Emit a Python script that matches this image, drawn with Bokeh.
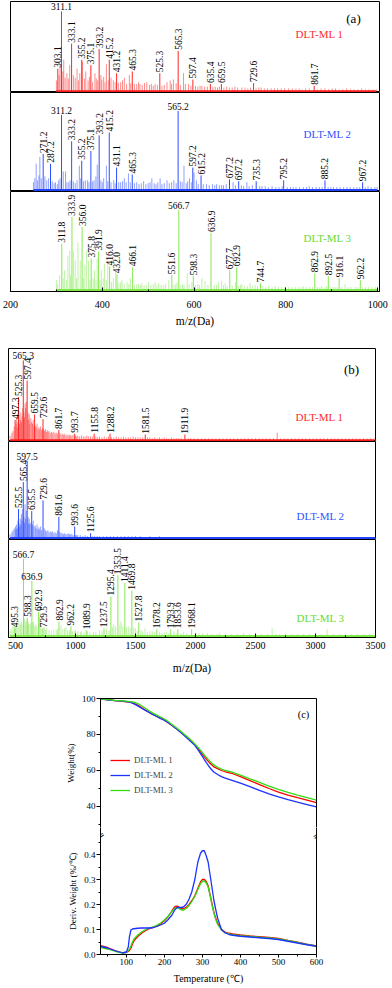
import math
from bokeh.plotting import figure
from bokeh.layouts import column
from bokeh.models import Range1d, LinearAxis, FixedTicker, Label, Legend, LegendItem, NumeralTickFormatter
from bokeh.embed import file_html
from bokeh.resources import INLINE
from bokeh.core.properties import value

# ---------------- data: panel (a), m/z 200-1000 ----------------
a_ticks = [200, 400, 600, 800, 1000]
a_minor_ticks = [300, 500, 700, 900]

a1_mz = [303.1, 311.1, 333.1, 355.2, 375.1, 393.2, 415.2, 431.2, 465.3, 525.3, 565.3, 597.4, 635.4, 659.5, 729.6, 861.7]
a1_int = [25, 89, 53, 35, 29, 47, 35, 20, 22, 20, 45, 13, 8, 8, 9, 6]
a1_flat = [311.1]
a1_minor = [(300,12),(306,18),(308,30),(314,22),(316,35),(319,15),(323,20),(326,14),(329,29),(337,18),(341,15),(345,25),(348,12),(351,20),(357,33),(361,14),(364,22),(369,12),(372,16),(379,10),(384,20),(387,14),(390,12),(397,18),(399,13),(403,16),(406,10),(409,30),(413,12),(419,15),(424,12),(428,10),(435,9),(440,10),(444,12),(448,15),(453,8),(459,18),(462,9),(470,8),(475,8),(479,10),(482,8),(487,7),(492,9),(497,10),(503,7),(507,8),(511,6),(515,8),(520,7),(530,6),(535,7),(541,10),(548,12),(551,8),(555,13),(561,9),(570,7),(577,20),(581,8),(588,8),(593,6),(603,6),(608,5),(613,6),(617,6),(623,5),(629,5),(641,5),(646,5),(651,4),(655,5),(665,4),(671,5),(677,4),(683,4),(689,5),(695,4),(704,4),(711,4),(717,3),(723,4),(735,3),(741,4),(746,4),(753,3),(760,3),(768,3),(775,3),(782,3),(790,3),(797,3),(806,3),(814,3),(822,3),(829,3),(835,2),(843,3),(851,3),(869,2),(877,3),(885,3),(893,2),(901,3),(908,3),(916,2),(924,2),(932,3),(941,2),(949,2),(957,2),(965,3),(973,2),(981,2),(990,2),(997,2)]

a2_mz = [271.2, 287.2, 311.2, 333.2, 355.2, 375.1, 393.2, 415.2, 431.1, 465.3, 565.2, 597.2, 615.2, 677.2, 697.2, 735.3, 795.2, 885.2, 967.2]
a2_int = [37, 27, 77, 50, 30, 40, 56, 59, 23, 16, 81, 23, 15, 11, 9, 9, 10, 10, 8]
a2_flat = [311.2, 565.2]
a2_minor = [(250,8),(253,12),(256,27),(259,10),(262,15),(264,34),(267,12),(275,14),(279,10),(283,12),(291,9),(295,7),(298,8),(302,6),(305,10),(308,12),(315,19),(320,19),(323,8),(327,8),(330,10),(337,9),(341,7),(345,10),(350,25),(353,12),(359,9),(363,10),(368,10),(371,8),(379,9),(382,10),(386,14),(389,26),(397,10),(400,8),(403,12),(409,25),(412,9),(419,8),(425,10),(428,7),(436,8),(440,8),(444,9),(448,12),(452,8),(457,17),(461,8),(470,7),(475,8),(480,6),(485,7),(490,9),(495,6),(500,7),(504,8),(508,12),(513,7),(517,6),(521,8),(526,12),(530,6),(535,7),(541,10),(546,7),(551,8),(556,10),(561,7),(570,9),(574,8),(578,25),(583,7),(586,9),(590,12),(594,8),(600,18),(605,10),(609,6),(620,6),(627,6),(633,5),(640,6),(645,5),(649,6),(655,5),(660,5),(664,5),(670,6),(685,8),(690,5),(703,5),(708,4),(715,8),(720,4),(727,5),(743,4),(748,4),(755,4),(762,3),(770,4),(778,3),(785,3),(792,4),(803,3),(810,3),(816,3),(822,3),(830,3),(838,3),(845,3),(851,4),(858,3),(866,3),(873,3),(879,3),(892,3),(898,3),(904,3),(911,3),(918,3),(926,3),(933,3),(940,3),(948,3),(955,3),(961,3),(973,3),(979,4),(986,3),(994,3),(999,3)]

a3_mz = [311.8, 333.9, 356.0, 375.8, 391.9, 416.0, 432.0, 466.1, 551.6, 566.7, 598.3, 636.9, 677.7, 692.9, 744.7, 862.9, 892.5, 916.1, 962.2]
a3_int = [47, 74, 64, 32, 39, 24, 16, 23, 15, 81, 14, 58, 20, 23, 7, 17, 14, 12, 10]
a3_flat = [566.7]
a3_minor = [(300,10),(303,6),(307,15),(315,12),(318,20),(322,10),(325,35),(329,40),(331,15),(337,40),(341,30),(344,12),(347,48),(352,30),(359,12),(362,25),(366,40),(370,30),(373,10),(380,12),(383,20),(386,10),(389,32),(395,10),(398,20),(402,12),(405,27),(409,10),(412,29),(420,8),(424,12),(429,18),(436,7),(440,8),(443,10),(448,6),(454,8),(458,6),(461,12),(470,5),(475,6),(479,6),(483,5),(486,7),(491,5),(496,5),(501,8),(506,5),(511,6),(515,8),(519,5),(523,7),(528,5),(533,5),(538,6),(545,10),(556,5),(560,6),(563,8),(571,5),(575,6),(578,5),(585,17),(589,6),(595,8),(603,5),(608,6),(612,5),(617,12),(624,9),(630,5),(644,5),(649,5),(653,8),(660,9),(664,5),(668,7),(672,4),(683,5),(690,8),(697,4),(701,5),(704,6),(710,4),(716,4),(722,7),(727,4),(733,5),(738,4),(750,4),(756,3),(762,4),(770,3),(777,4),(784,3),(791,3),(798,3),(806,3),(813,3),(820,3),(827,3),(833,3),(838,4),(845,3),(852,3),(858,3),(868,3),(874,3),(878,4),(885,3),(889,4),(898,3),(903,3),(907,3),(912,3),(922,3),(929,6),(935,3),(942,3),(951,3),(957,3),(967,3),(973,3),(980,3),(987,3),(994,3),(999,2)]

# ---------------- data: panel (b), m/z 500-3500 ----------------
b_ticks = [500, 1000, 1500, 2000, 2500, 3000, 3500]
b_minor_ticks = [750, 1250, 1750, 2250, 2750, 3250]

b1_mz = [497.3, 525.3, 565.3, 597.4, 659.5, 729.6, 861.7, 993.7, 1155.8, 1288.2, 1581.5, 1911.9]
b1_int = [22, 47, 87, 65, 28, 23, 11, 7, 7, 7, 6, 6]
b1_flat = [565.3]
b1_minor = [(455,5),(470,8),(480,10),(490,15),(505,18),(510,25),(515,14),(520,20),(530,28),(535,18),(540,22),(545,30),(550,20),(555,26),(560,35),(570,30),(575,25),(580,40),(585,35),(590,42),(605,30),(610,22),(615,28),(620,18),(628,24),(635,20),(642,18),(648,22),(655,15),(665,16),(672,14),(680,18),(688,12),(695,14),(702,12),(710,15),(718,11),(725,13),(735,12),(742,10),(750,12),(758,9),(765,11),(772,9),(780,10),(790,8),(800,9),(810,8),(820,9),(830,7),(840,8),(850,7),(870,8),(880,6),(890,7),(900,6),(910,7),(920,5),(930,6),(940,5),(950,6),(960,5),(970,5),(980,6),(1000,5),(1010,4),(1020,5),(1035,4),(1050,5),(1065,4),(1080,4),(1095,5),(1110,4),(1125,4),(1140,4),(1170,4),(1185,3),(1200,4),(1220,3),(1240,4),(1260,3),(1275,4),(1300,3),(1320,3),(1340,4),(1360,3),(1380,3),(1400,4),(1420,3),(1440,3),(1460,3),(1480,4),(1500,3),(1520,3),(1540,3),(1560,3),(1600,3),(1620,3),(1640,2),(1660,3),(1680,2),(1700,3),(1720,2),(1740,3),(1760,2),(1780,2),(1800,3),(1820,2),(1840,2),(1860,2),(1880,2),(1940,2),(1960,2),(1990,2),(2020,2),(2050,2),(2080,2),(2110,2),(2140,2),(2170,2),(2200,2),(2230,2),(2260,2),(2290,2),(2320,2),(2350,2),(2380,2),(2410,2),(2440,2),(2470,2),(2500,2),(2530,2),(2560,2),(2590,2),(2620,2),(2650,2),(2681,8),(2710,2),(2740,2),(2770,2),(2800,2),(2830,2),(2860,2),(2890,2),(2920,2),(2950,2),(2980,2),(3010,2),(3040,2),(3070,2),(3100,2),(3130,2),(3160,2),(3190,2),(3220,2),(3250,2),(3280,2),(3310,2),(3340,2),(3370,2),(3400,2),(3430,2),(3460,2),(3490,2)]

b2_mz = [525.5, 565.4, 597.5, 635.5, 729.6, 861.6, 993.6, 1125.6]
b2_int = [30, 58, 80, 28, 39, 22, 12, 5]
b2_flat = [597.5]
b2_minor = [(455,4),(470,6),(480,8),(490,10),(500,12),(505,9),(510,14),(515,10),(520,18),(530,15),(535,12),(540,20),(545,14),(550,25),(555,18),(560,30),(570,22),(575,16),(580,35),(585,20),(590,28),(605,22),(610,15),(615,20),(620,14),(628,16),(642,14),(648,18),(655,12),(665,13),(672,10),(680,14),(688,9),(695,11),(702,9),(710,12),(718,8),(740,10),(750,8),(760,7),(770,8),(780,6),(790,7),(800,6),(810,7),(820,5),(830,6),(840,5),(850,8),(870,6),(880,5),(890,5),(900,4),(910,5),(920,4),(930,4),(940,5),(950,4),(960,4),(970,4),(980,3),(1000,3),(1010,3),(1020,3),(1040,3),(1060,2),(1080,3),(1100,2),(1140,2),(1160,2),(1180,2),(1200,2),(1230,2),(1260,2),(1290,2),(1320,2),(1350,2),(1380,2),(1410,2),(1440,2),(1470,2),(1500,2),(1540,2),(1580,1),(1620,2),(1660,1),(1700,2),(1740,1),(1780,1),(1820,1),(1860,1),(1900,1),(1950,1),(2000,1),(2050,1),(2100,1),(2150,1),(2200,1),(2250,1),(2300,1),(2350,1),(2400,1),(2450,1),(2500,1),(2550,1),(2600,1),(2650,1),(2700,1),(2750,1),(2800,1),(2850,1),(2900,1),(2950,1),(3000,1),(3050,1),(3100,1),(3150,1),(3200,1),(3250,1),(3300,1),(3350,1),(3400,1),(3450,1),(3500,1)]

b3_mz = [495.3, 566.7, 598.3, 636.9, 692.9, 729.5, 862.9, 962.2, 1089.9, 1237.5, 1295.4, 1353.5, 1411.4, 1469.8, 1527.8, 1678.2, 1793.9, 1853.6, 1968.1]
b3_int = [8, 80, 19, 57, 25, 8, 15, 10, 6, 8, 41, 63, 55, 47, 14, 7, 7, 7, 7]
b3_flat = [566.7, 636.9]
b3_minor = [(455,5),(465,7),(480,10),(490,12),(500,9),(510,14),(520,10),(530,15),(540,12),(548,16),(555,12),(575,18),(585,14),(590,16),(605,15),(610,12),(620,12),(628,14),(645,14),(650,15),(660,10),(670,12),(680,10),(700,20),(710,9),(720,8),(740,9),(750,6),(760,8),(780,6),(800,6),(820,7),(840,6),(850,8),(880,11),(895,7),(910,8),(920,9),(935,6),(950,6),(975,5),(990,5),(1000,6),(1020,5),(1040,4),(1050,5),(1070,4),(1100,5),(1120,4),(1150,4),(1170,4),(1200,6),(1220,5),(1260,8),(1280,6),(1310,9),(1320,12),(1335,10),(1370,12),(1380,15),(1395,10),(1425,9),(1440,10),(1455,8),(1485,9),(1500,8),(1515,6),(1545,6),(1560,5),(1580,8),(1600,4),(1620,5),(1640,5),(1660,4),(1700,4),(1720,3),(1740,4),(1760,4),(1780,3),(1820,5),(1840,3),(1880,3),(1900,4),(1930,3),(2000,3),(2030,3),(2060,3),(2100,3),(2140,2),(2180,2),(2200,3),(2250,2),(2300,2),(2350,2),(2400,3),(2450,2),(2500,2),(2550,2),(2600,2),(2639,8),(2670,2),(2700,2),(2750,2),(2800,2),(2850,2),(2900,2),(2950,2),(3000,2),(3050,2),(3097,7),(3150,2),(3200,2),(3250,2),(3300,2),(3350,2),(3400,2),(3450,2),(3500,2)]

# ---------------- data: panel (c), TG / DTG ----------------
c_ticks = [100, 200, 300, 400, 500, 600]
c_minor_ticks = [50, 150, 250, 350, 450, 550]
tg_ticks = [40, 60, 80, 100]
tg_minor_ticks = [30, 50, 70, 90]
dtg_ticks = [0.0, 0.1, 0.2, 0.3, 0.4]
dtg_minor_ticks = [0.05, 0.15, 0.25, 0.35, 0.45]

T_tg = [32, 50, 70, 90, 100, 110, 120, 130, 140, 150,
        160, 170, 180, 190, 200, 210, 220, 230, 240, 250,
        260, 270, 280, 290, 295, 300, 305, 310, 315, 320,
        325, 330, 340, 350, 360, 380, 400, 425, 450, 475,
        500, 525, 550, 575, 600]
tg_1 = [99.8, 99.3, 98.8, 98.4, 98.2, 98.0, 97.3, 96.3, 95.0, 93.6,
        92.2, 91.0, 90.0, 89.0, 88.0, 86.6, 85.0, 83.5, 82.0, 80.2,
        78.5, 76.6, 74.4, 71.8, 70.3, 69.0, 67.6, 66.4, 65.2, 64.0,
        63.0, 62.0, 61.0, 60.0, 59.3, 58.2, 56.6, 54.4, 52.2, 50.0,
        48.0, 46.3, 44.9, 43.6, 42.2]
tg_2 = [99.8, 99.3, 98.8, 98.5, 98.3, 98.0, 97.0, 95.9, 94.6, 93.4,
        92.3, 91.2, 90.1, 89.0, 87.9, 86.6, 85.1, 83.4, 81.6, 79.8,
        77.9, 75.9, 74.0, 71.0, 69.4, 67.8, 66.1, 64.5, 63.0, 61.5,
        60.3, 59.2, 57.8, 56.6, 55.8, 54.4, 53.0, 51.0, 49.0, 47.0,
        45.3, 43.8, 42.4, 41.1, 39.8]
tg_3 = [99.8, 99.4, 99.0, 98.7, 98.5, 98.3, 98.0, 97.2, 96.0, 94.6,
        93.2, 91.9, 90.8, 89.7, 88.6, 87.2, 85.6, 84.0, 82.3, 80.6,
        78.8, 76.9, 74.8, 72.5, 71.3, 70.0, 68.6, 67.4, 66.2, 65.0,
        64.0, 63.1, 61.8, 60.8, 60.0, 58.9, 57.4, 55.4, 53.4, 51.3,
        49.5, 47.8, 46.3, 44.9, 43.5]

T_dtg = [32, 50, 70, 90, 100, 105, 108, 112, 116, 120,
         130, 140, 150, 160, 170, 180, 190, 200, 210, 220,
         228, 235, 242, 250, 258, 265, 272, 280, 288, 295,
         300, 305, 310, 315, 320, 325, 330, 335, 340, 350,
         360, 370, 380, 400, 425, 450, 475, 500, 525, 550,
         575, 600]
dtg_1 = [0.035, 0.028, 0.016, 0.007, 0.008, 0.012, 0.016, 0.025, 0.042, 0.055,
         0.072, 0.085, 0.095, 0.103, 0.108, 0.113, 0.122, 0.135, 0.152, 0.175,
         0.192, 0.193, 0.186, 0.183, 0.19, 0.2, 0.215, 0.235, 0.265, 0.29,
         0.3, 0.3, 0.292, 0.275, 0.24, 0.205, 0.17, 0.145, 0.125, 0.1,
         0.09, 0.085, 0.082, 0.078, 0.074, 0.071, 0.068, 0.064, 0.056, 0.049,
         0.041, 0.034]
dtg_2 = [0.033, 0.026, 0.015, 0.006, 0.01, 0.03, 0.07, 0.098, 0.102, 0.103,
         0.105, 0.106, 0.106, 0.106, 0.107, 0.112, 0.118, 0.125, 0.14, 0.158,
         0.18, 0.189, 0.188, 0.19, 0.202, 0.222, 0.25, 0.3, 0.37, 0.405,
         0.415, 0.415, 0.395, 0.37, 0.32, 0.27, 0.218, 0.18, 0.145, 0.1,
         0.086, 0.08, 0.077, 0.073, 0.07, 0.067, 0.064, 0.06, 0.053, 0.046,
         0.039, 0.033]
dtg_3 = [0.028, 0.022, 0.013, 0.006, 0.009, 0.015, 0.022, 0.035, 0.05, 0.062,
         0.078, 0.09, 0.099, 0.106, 0.111, 0.117, 0.126, 0.138, 0.153, 0.172,
         0.186, 0.188, 0.18, 0.177, 0.185, 0.196, 0.212, 0.232, 0.26, 0.283,
         0.293, 0.294, 0.286, 0.27, 0.238, 0.2, 0.167, 0.14, 0.12, 0.098,
         0.087, 0.082, 0.079, 0.075, 0.072, 0.069, 0.066, 0.062, 0.055, 0.048,
         0.04, 0.033]

series_names = ["DLT-ML 1", "DLT-ML 2", "DLT-ML 3"]

# ---------------- styling ----------------
SERIF = "Liberation Serif"
W = 392
RED = "#ff1a1a"
BLUE = "#2244ff"
GREEN = "#7ee84a"
TXT = ["#ff2a2a", "#3355ff", "#66dd33"]
LINE = ["#ff0000", "#1a33ff", "#33dd11"]


def spectrum(xr, top, frame_h, bottom, left, right, mz, inten, flat, minor, color,
             name, name_color, name_dx, name_dy, axis=None):
    p = figure(width=W, height=top + frame_h + bottom, x_range=xr, y_range=Range1d(-1.5, 100),
               output_backend="svg", toolbar_location=None,
               x_axis_location="below" if axis else None, y_axis_location=None,
               min_border_left=left, min_border_right=right,
               min_border_top=top, min_border_bottom=bottom, frame_align=False)
    p.xgrid.visible = False
    p.ygrid.visible = False
    p.outline_line_color = "black"
    p.outline_line_alpha = 1.0
    p.outline_line_width = 1
    mmz = [m for m, h in minor]
    mh = [h for m, h in minor]
    allmz = mmz + list(mz)
    p.line([min(allmz), max(allmz)], [0, 0], line_color=color, line_width=2)
    p.segment(x0=mmz, y0=[0] * len(mmz), x1=mmz, y1=mh, line_color=color, line_width=1, line_alpha=0.5)
    p.segment(x0=mz, y0=[0] * len(mz), x1=mz, y1=inten, line_color=color, line_width=1, line_alpha=0.95)
    vx = [m for m in mz if m not in flat]
    vy = [h for m, h in zip(mz, inten) if m not in flat]
    fx = [m for m in mz if m in flat]
    fy = [h for m, h in zip(mz, inten) if m in flat]
    p.text(x=vx, y=vy, text=[f"{m:.1f}" for m in vx], angle=math.pi / 2,
           text_align="left", text_baseline="middle", text_font=value(SERIF),
           text_font_size="9.5px", text_color="black", x_offset=0, y_offset=-1)
    p.text(x=fx, y=fy, text=[f"{m:.1f}" for m in fx], angle=0,
           text_align="center", text_baseline="bottom", text_font=value(SERIF),
           text_font_size="9.5px", text_color="black", y_offset=-1)
    p.add_layout(Label(x=xr.end, y=100, x_offset=-name_dx, y_offset=-name_dy, text=name,
                       text_align="center", text_baseline="middle", text_font=SERIF,
                       text_font_size="11px", text_color=name_color))
    if axis:
        ticks, minors, std, lstd = axis
        ax = p.xaxis[0]
        ax.ticker = FixedTicker(ticks=ticks, minor_ticks=minors)
        ax.major_tick_in = 4
        ax.major_tick_out = 0
        ax.minor_tick_in = 2
        ax.minor_tick_out = 0
        ax.axis_line_color = "black"
        ax.major_label_text_font = SERIF
        ax.major_label_text_font_size = "10px"
        ax.major_label_text_color = "black"
        ax.major_label_standoff = std
        ax.axis_label = "m/z(Da)"
        ax.axis_label_text_font = SERIF
        ax.axis_label_text_font_style = "normal"
        ax.axis_label_text_font_size = "11.5px"
        ax.axis_label_text_color = "black"
        ax.axis_label_standoff = lstd
    return p


xr_a = Range1d(200, 1004)
xr_b = Range1d(442, 3500)

# panel (a): frames 1-92, 92-191, 191-291 ; x 10-379
a1 = spectrum(xr_a, 1, 91, 0, 10, 13, a1_mz, a1_int, a1_flat, a1_minor, RED,
              series_names[0], TXT[0], 60, 32)
a2 = spectrum(xr_a, 0, 99, 0, 10, 13, a2_mz, a2_int, a2_flat, a2_minor, BLUE,
              series_names[1], TXT[1], 52, 41)
a3 = spectrum(xr_a, 0, 100, 55, 10, 13, a3_mz, a3_int, a3_flat, a3_minor, GREEN,
              series_names[2], TXT[2], 52, 46, axis=(a_ticks, a_minor_ticks, 9, 4))
a1.add_layout(Label(x=xr_a.end, y=100, x_offset=-26, y_offset=-17, text="(a)",
                    text_align="center", text_baseline="middle", text_font=SERIF,
                    text_font_size="13px", text_color="black"))

# panel (b): frames 348-441, 441-539, 539-637 ; x 8-375
b1 = spectrum(xr_b, 2, 93, 0, 8, 17, b1_mz, b1_int, b1_flat, b1_minor, RED,
              series_names[0], TXT[0], 56, 68)
b2 = spectrum(xr_b, 0, 98, 0, 8, 17, b2_mz, b2_int, b2_flat, b2_minor, BLUE,
              series_names[1], TXT[1], 55, 74)
b3 = spectrum(xr_b, 0, 98, 56, 8, 17, b3_mz, b3_int, b3_flat, b3_minor, GREEN,
              series_names[2], TXT[2], 55, 78, axis=(b_ticks, b_minor_ticks, 4, 10))
b1.add_layout(Label(x=xr_b.end, y=100, x_offset=-24, y_offset=-21, text="(b)",
                    text_align="center", text_baseline="middle", text_font=SERIF,
                    text_font_size="13px", text_color="black"))

# ---------------- panel (c) ----------------
xr_c = Range1d(32, 600)


def style_axis(ax, ticks, minors, size="9px"):
    ax.ticker = FixedTicker(ticks=ticks, minor_ticks=minors)
    ax.major_tick_in = 0
    ax.major_tick_out = 4
    ax.minor_tick_in = 0
    ax.minor_tick_out = 2
    ax.axis_line_color = "black"
    ax.major_tick_line_color = "black"
    ax.minor_tick_line_color = "black"
    ax.major_label_text_font = SERIF
    ax.major_label_text_font_size = size
    ax.major_label_text_color = "black"
    ax.axis_label_text_font = SERIF
    ax.axis_label_text_font_style = "normal"
    ax.axis_label_text_color = "black"


def blank_axis(ax):
    ax.ticker = FixedTicker(ticks=[])
    ax.major_tick_in = 0
    ax.major_tick_out = 0
    ax.minor_tick_in = 0
    ax.minor_tick_out = 0
    ax.major_label_standoff = 0
    ax.axis_line_color = "black"


# c1 frame 698-827, c2 frame 827-954 ; x 100-316
c1 = figure(width=W, height=134, x_range=xr_c, y_range=Range1d(28.33, 100),
            output_backend="svg", toolbar_location=None,
            x_axis_location="above", y_axis_location="left",
            min_border_left=100, min_border_right=76, min_border_top=5, min_border_bottom=0,
            frame_align=False)
c1.grid.visible = False
c1.outline_line_color = None
blank_axis(c1.xaxis[0])
ra1 = LinearAxis()
blank_axis(ra1)
c1.add_layout(ra1, "right")
style_axis(c1.yaxis[0], tg_ticks, tg_minor_ticks)
c1.yaxis[0].major_label_standoff = 1
c1.yaxis[0].axis_label = "Weight(%)"
c1.yaxis[0].axis_label_text_font_size = "9px"
c1.yaxis[0].axis_label_standoff = 3

r1 = c1.line(T_tg, tg_1, line_color=LINE[0], line_width=1.3)
r2 = c1.line(T_tg, tg_2, line_color=LINE[1], line_width=1.3)
r3 = c1.line(T_tg, tg_3, line_color=LINE[2], line_width=1.3)
legend = Legend(items=[LegendItem(label=series_names[0], renderers=[r1]),
                       LegendItem(label=series_names[1], renderers=[r2]),
                       LegendItem(label=series_names[2], renderers=[r3])],
                location=(10, 32), orientation="vertical",
                glyph_width=20, glyph_height=10, label_height=10, label_width=10,
                spacing=5, padding=0, margin=0, label_standoff=4,
                label_text_font=SERIF, label_text_font_size="9px",
                border_line_color=None, background_fill_alpha=0)
c1.add_layout(legend)
c1.add_layout(Label(x=xr_c.end, y=100, x_offset=-13, y_offset=-16, text="(c)",
                    text_align="center", text_baseline="middle", text_font=SERIF,
                    text_font_size="10.5px", text_color="black"))

c2 = figure(width=W, height=161, x_range=xr_c, y_range=Range1d(0, 0.508),
            output_backend="svg", toolbar_location=None,
            x_axis_location="below", y_axis_location="left",
            min_border_left=100, min_border_right=76, min_border_top=0, min_border_bottom=34,
            frame_align=False)
c2.grid.visible = False
c2.outline_line_color = None
ra2 = LinearAxis()
blank_axis(ra2)
c2.add_layout(ra2, "right")
style_axis(c2.yaxis[0], dtg_ticks, dtg_minor_ticks)
c2.yaxis[0].formatter = NumeralTickFormatter(format="0.0")
c2.yaxis[0].major_label_standoff = 1
c2.yaxis[0].axis_label = "Deriv. Weight (%/\u2103)"
c2.yaxis[0].axis_label_text_font_size = "9px"
c2.yaxis[0].axis_label_standoff = 3
style_axis(c2.xaxis[0], c_ticks, c_minor_ticks)
c2.xaxis[0].major_tick_out = 3
c2.xaxis[0].major_label_standoff = 1
c2.xaxis[0].axis_label = "Temperature (\u2103)"
c2.xaxis[0].axis_label_text_font_size = "10px"
c2.xaxis[0].axis_label_standoff = 5

c2.line(T_dtg, dtg_1, line_color=LINE[0], line_width=1.3)
c2.line(T_dtg, dtg_3, line_color=LINE[2], line_width=1.3)
c2.line(T_dtg, dtg_2, line_color=LINE[1], line_width=1.3)

for xpos in (xr_c.start, xr_c.end):
    c2.add_layout(Label(x=xpos, y=0.508, y_offset=-8, text="=", angle=0.6,
                        text_align="center", text_baseline="middle", text_font="DejaVu Sans",
                        text_font_size="10px", text_color="black"))

layout = column(a1, a2, a3, b1, b2, b3, c1, c2, spacing=0)
open("out.html", "w").write(file_html(layout, INLINE))
